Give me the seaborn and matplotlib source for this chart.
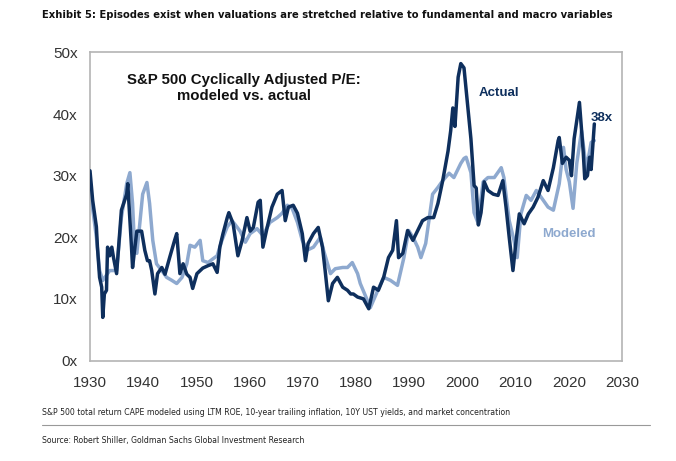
import matplotlib
matplotlib.use("Agg")
import matplotlib.pyplot as plt
from matplotlib import font_manager as fm
import seaborn as sns
import pandas as pd

# ---- data ----
actual_years = [1930.0, 1930.5, 1931.2, 1931.4, 1931.8, 1932.2, 1932.4, 1932.7, 1933.1, 1933.3,
                1933.7, 1934.1, 1934.4, 1935.0, 1935.9, 1936.9, 1937.1, 1937.8, 1938.0, 1938.8,
                1939.7, 1940.3, 1940.8, 1941.2, 1941.6, 1942.2, 1942.7, 1943.5, 1944.1, 1945.0,
                1945.9, 1946.3, 1946.9, 1947.5, 1948.2, 1948.8, 1949.3, 1950.1, 1951.2, 1952.2,
                1953.1, 1953.9, 1954.4, 1955.0, 1955.8, 1956.1, 1956.9, 1957.8, 1958.6, 1959.5,
                1960.1, 1960.7, 1961.6, 1962.0, 1962.5, 1963.3, 1964.2, 1965.2, 1966.1, 1966.7,
                1967.3, 1968.2, 1969.0, 1969.9, 1970.5, 1971.0, 1972.0, 1972.9, 1973.7, 1974.2,
                1974.8, 1975.6, 1976.5, 1977.5, 1978.4, 1979.0, 1979.5, 1980.3, 1981.4, 1982.4,
                1983.3, 1984.2, 1985.2, 1986.1, 1986.9, 1987.6, 1988.0, 1988.8, 1989.7, 1990.7,
                1991.6, 1992.5, 1993.5, 1994.6, 1995.4, 1996.3, 1997.3, 1997.8, 1998.2, 1998.6,
                1999.2, 1999.7, 2000.3, 2000.7, 2001.6, 2002.2, 2002.6, 2003.0, 2003.5, 2004.1,
                2004.8, 2005.8, 2006.7, 2007.6, 2008.2, 2008.8, 2009.5, 2010.1, 2010.7, 2011.6,
                2012.4, 2013.3, 2014.2, 2015.2, 2016.1, 2017.1, 2018.0, 2018.2, 2018.8, 2019.5,
                2020.1, 2020.5, 2021.0, 2022.0, 2022.7, 2023.0, 2023.5, 2023.9, 2024.2, 2024.8]
actual_values = [30.8, 26.0, 21.7, 18.4, 13.5, 11.9, 7.0, 10.8, 11.4, 18.4,
                 17.0, 18.4, 16.8, 14.1, 24.4, 27.0, 28.7, 18.4, 15.1, 21.0,
                 21.0, 17.9, 16.2, 16.2, 14.6, 10.8, 14.1, 15.1, 14.0, 16.8,
                 19.5, 20.6, 14.1, 15.7, 14.0, 13.5, 11.7, 14.1, 15.0, 15.4,
                 15.7, 14.3, 18.4, 20.6, 23.2, 24.0, 22.2, 17.0, 19.5, 23.2,
                 21.0, 21.6, 25.7, 26.0, 18.4, 21.6, 24.9, 27.0, 27.6, 22.7,
                 24.9, 25.2, 23.9, 20.6, 16.2, 19.0, 20.6, 21.6, 18.4, 14.6,
                 9.7, 12.5, 13.5, 11.9, 11.4, 10.8, 10.8, 10.3, 10.0, 8.4,
                 11.9, 11.4, 13.5, 16.7, 17.9, 22.7, 16.7, 17.4, 21.1, 19.5,
                 21.1, 22.7, 23.2, 23.2, 25.5, 29.2, 34.0, 37.3, 41.0, 38.0,
                 46.0, 48.2, 47.5, 44.0, 36.0, 28.4, 28.0, 22.0, 24.0, 29.0,
                 27.6, 27.0, 26.8, 29.2, 24.9, 20.0, 14.6, 19.5, 23.8, 22.2,
                 23.8, 24.9, 26.5, 29.2, 27.6, 31.3, 35.7, 36.2, 32.0, 33.0,
                 32.5, 30.0, 36.0, 41.9, 34.0, 29.5, 30.0, 33.0, 31.0, 38.4]

modeled_years = [1930.0, 1931.2, 1931.8, 1932.4, 1933.7, 1935.0, 1935.9, 1936.9, 1937.5, 1938.0,
                 1938.4, 1938.8, 1939.3, 1939.9, 1940.7, 1941.2, 1941.8, 1942.5, 1943.5, 1944.4,
                 1945.4, 1946.3, 1947.3, 1948.2, 1948.8, 1949.7, 1950.7, 1951.2, 1952.2, 1953.1,
                 1953.9, 1954.8, 1955.8, 1956.7, 1957.6, 1958.2, 1959.2, 1960.1, 1961.4, 1962.5,
                 1963.8, 1965.2, 1966.1, 1967.1, 1968.0, 1969.0, 1969.9, 1970.8, 1972.0, 1973.3,
                 1973.9, 1975.2, 1976.1, 1977.5, 1978.4, 1979.3, 1980.3, 1980.8, 1982.7, 1984.1,
                 1985.2, 1986.5, 1987.8, 1989.0, 1989.9, 1990.7, 1991.6, 1992.2, 1993.1, 1994.4,
                 1995.4, 1996.3, 1997.5, 1998.4, 1999.7, 2000.3, 2000.7, 2001.6, 2002.2, 2002.9,
                 2003.9, 2004.8, 2006.0, 2007.3, 2007.8, 2008.8, 2009.7, 2010.3, 2011.0, 2012.0,
                 2012.9, 2013.9, 2014.8, 2016.1, 2017.1, 2018.2, 2019.0, 2019.5, 2020.1, 2020.8,
                 2021.5, 2022.4, 2023.3, 2024.2, 2024.8]
modeled_values = [28.0, 20.0, 14.6, 13.0, 14.6, 14.6, 23.2, 28.7, 30.5, 25.5,
                  17.9, 17.4, 21.7, 27.0, 28.9, 25.5, 19.5, 15.7, 14.6, 13.5,
                  13.0, 12.5, 13.5, 15.7, 18.7, 18.4, 19.5, 16.2, 15.9, 16.5,
                  17.0, 19.5, 21.7, 22.7, 21.7, 21.0, 19.2, 20.6, 21.4, 20.3,
                  22.4, 23.2, 23.9, 25.2, 24.7, 22.4, 19.5, 17.9, 18.4, 20.0,
                  17.9, 14.1, 14.9, 15.1, 15.1, 15.9, 14.1, 12.5, 8.6, 11.4,
                  13.5, 13.0, 12.2, 16.7, 21.1, 20.0, 18.4, 16.7, 19.0, 27.0,
                  28.1, 29.2, 30.4, 29.7, 32.0, 32.8, 33.0, 30.5, 24.0, 22.4,
                  29.0, 29.7, 29.7, 31.3, 29.7, 22.7, 19.5, 16.7, 23.8, 26.8,
                  26.0, 27.6, 26.5, 24.9, 24.4, 28.7, 34.6, 31.0, 29.0, 24.7,
                  32.0, 37.3, 31.0, 35.4, 35.7]

y_ticks = [0, 10, 20, 30, 40, 50]
y_tick_labels = ["0x", "10x", "20x", "30x", "40x", "50x"]
x_ticks = [1930, 1940, 1950, 1960, 1970, 1980, 1990, 2000, 2010, 2020, 2030]

title = "Exhibit 5: Episodes exist when valuations are stretched relative to fundamental and macro variables"
inner_title = "S&P 500 Cyclically Adjusted P/E:\nmodeled vs. actual"
note = ("S&P 500 total return CAPE modeled using LTM ROE, 10-year trailing inflation, "
        "10Y UST yields, and market concentration")
source = "Source: Robert Shiller, Goldman Sachs Global Investment Research"

DARK = "#0e2f5d"
LIGHT = "#8ea9cf"

sns.set_style("white")
plt.rcParams["font.family"] = ["Liberation Sans", "DejaVu Sans"]


def narrow_font(bold):
    """Prefer an installed condensed / narrow face, else Roboto (narrow-ish)."""
    for f in fm.fontManager.ttflist:
        name = f.name.lower()
        cond = ("narrow" in name or "condensed" in name or
                str(f.stretch) in ("condensed", "semi-condensed", "extra-condensed"))
        if not cond:
            continue
        w = f.weight if isinstance(f.weight, int) else (700 if "bold" in str(f.weight) else 400)
        if (w >= 600) != bold:
            continue
        if "italic" in str(f.style) or "oblique" in str(f.style):
            continue
        return fm.FontProperties(fname=f.fname)
    return fm.FontProperties(family=["Roboto", "Liberation Sans"],
                             weight="bold" if bold else "normal")


fig = plt.figure(figsize=(6.76, 4.61), dpi=100)
ax = fig.add_axes([90 / 676, 1 - 360.5 / 461, 532 / 676, 308 / 461])

df_a = pd.DataFrame({"year": actual_years, "value": actual_values})
df_m = pd.DataFrame({"year": modeled_years, "value": modeled_values})
sns.lineplot(data=df_m, x="year", y="value", ax=ax, color=LIGHT, lw=2.5, zorder=2)
sns.lineplot(data=df_a, x="year", y="value", ax=ax, color=DARK, lw=2.5, zorder=3)

ax.set_xlim(1930, 2030)
ax.set_ylim(0, 50)
ax.set_xticks(x_ticks)
ax.set_yticks(y_ticks)
ax.set_yticklabels(y_tick_labels)
ax.set_xlabel("")
ax.set_ylabel("")
ax.tick_params(axis="both", length=0, labelsize=11, colors="#333333")
ax.tick_params(axis="y", pad=9)
ax.tick_params(axis="x", pad=11)
for s in ax.spines.values():
    s.set_visible(True)
    s.set_color("#b4b4b4")
    s.set_linewidth(1.2)

ax.text(0.29, 0.935, inner_title, transform=ax.transAxes, ha="center", va="top",
        fontsize=10.8, fontweight="bold", color="#111111", linespacing=1.2)
ax.text(2006.8, 43.4, "Actual", color=DARK, fontsize=9.5, fontweight="bold", ha="center", va="center")
ax.text(2026.2, 39.4, "38x", color=DARK, fontsize=9.5, fontweight="bold", ha="center", va="center")
ax.text(2020.0, 20.5, "Modeled", color=LIGHT, fontsize=9.5, fontweight="bold", ha="center", va="center")

renderer = fig.canvas.get_renderer()


def fitted_text(x_px, y_px, s, bold, size, target_w, color):
    fp = narrow_font(bold)
    fp.set_size(size)
    t = fig.text(x_px / 676, 1 - y_px / 461, s, ha="left", va="center",
                 fontproperties=fp, color=color)
    w = t.get_window_extent(renderer).width
    if w > 0:
        fp2 = fp.copy()
        fp2.set_size(size * target_w / w)
        t.set_fontproperties(fp2)
    return t


fitted_text(42, 15, title, True, 11, 568, "#111111")
fitted_text(42, 412, note, False, 7, 470, "#222222")
fitted_text(42, 440, source, False, 7, 263, "#222222")
fig.add_artist(plt.Line2D([42 / 676, 650 / 676], [1 - 425 / 461, 1 - 425 / 461],
                          transform=fig.transFigure, color="#999999", lw=0.8))

fig.savefig("out.png", dpi=100, facecolor="white")
